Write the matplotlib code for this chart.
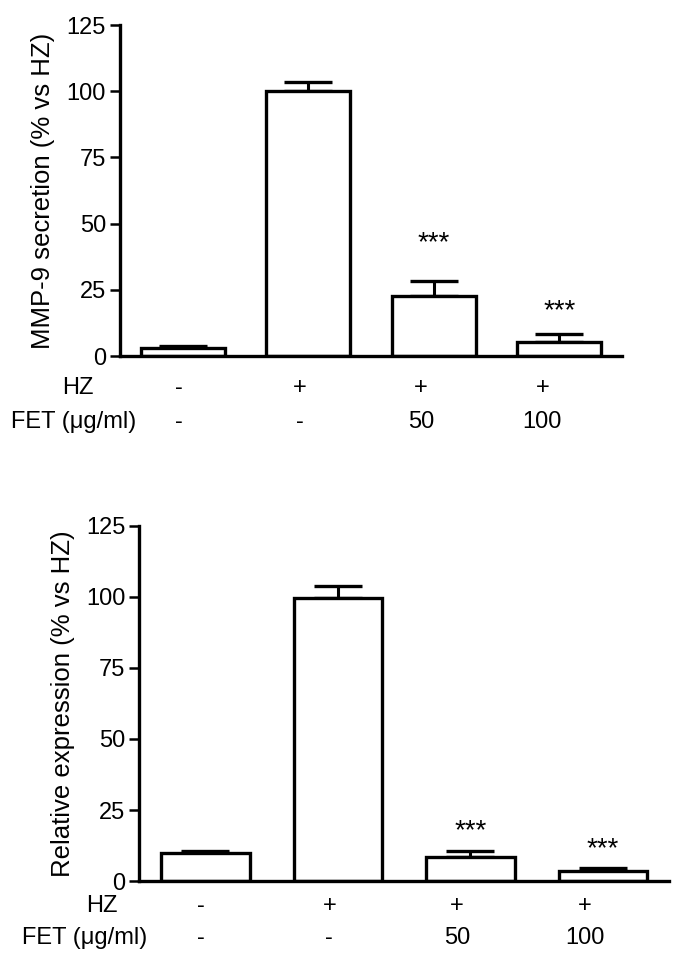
import numpy as np
import matplotlib.pyplot as plt
import matplotlib.transforms as mtransforms

plt.rcParams['font.family'] = ['Liberation Sans', 'DejaVu Sans']

# data
mmp9_mean = [2.9, 100.0, 22.7, 5.4]
mmp9_err = [0.9, 3.4, 5.6, 3.1]
mmp9_stars = ['', '', '***', '***']
mmp9_star_y = [0, 0, 42.7, 17.0]

expr_mean = [10.0, 99.8, 8.3, 3.5]
expr_err = [0.6, 3.9, 2.1, 1.2]
expr_stars = ['', '', '***', '***']
expr_star_y = [0, 0, 17.7, 11.2]

hz_labels = ['-', '+', '+', '+']
fet_labels = ['-', '-', '50', '100']
yticks = [0, 25, 50, 75, 100, 125]

fig = plt.figure(figsize=(6.85, 9.65), dpi=100)
ax1 = fig.add_axes([0.175, 0.631, 0.733, 0.343])
ax2 = fig.add_axes([0.203, 0.087, 0.774, 0.368])


def draw_panel(ax, means, errs, stars, star_y, ylabel, hz_y, fet_y, hz_x, fet_x, lab_step):
    x = np.arange(len(means))
    ax.bar(x, means, width=0.667, color='white', edgecolor='black', linewidth=2.4, zorder=2)
    ax.errorbar(x, means, yerr=[np.zeros(len(errs)), errs], fmt='none', ecolor='black',
                elinewidth=2.2, capsize=17, capthick=2.4, zorder=1)
    for xi, s, sy in zip(x, stars, star_y):
        if s:
            ax.text(xi, sy, s, ha='center', va='center', fontsize=20)
    ax.set_xlim(-0.5, 3.5)
    ax.set_ylim(0, 125)
    ax.set_yticks(yticks)
    ax.set_xticks([])
    for side in ['top', 'right']:
        ax.spines[side].set_visible(False)
    ax.spines['left'].set_linewidth(2.4)
    ax.spines['bottom'].set_linewidth(2.4)
    ax.tick_params(axis='y', length=7, width=1.8, labelsize=17, pad=3)
    ax.set_ylabel(ylabel, fontsize=18.5, labelpad=8)

    trans = mtransforms.blended_transform_factory(ax.transData, ax.transAxes)
    ax.text(hz_x, hz_y, 'HZ', transform=trans, ha='right', va='center', fontsize=17)
    ax.text(fet_x, fet_y, 'FET (\u03bcg/ml)', transform=trans, ha='right', va='center', fontsize=17)
    for i, (h, f) in enumerate(zip(hz_labels, fet_labels)):
        lx = i * lab_step - 0.03
        ax.text(lx, hz_y, h, transform=trans, ha='center', va='center', fontsize=17)
        ax.text(lx, fet_y, f, transform=trans, ha='center', va='center', fontsize=17)


draw_panel(ax1, mmp9_mean, mmp9_err, mmp9_stars, mmp9_star_y,
           'MMP-9 secretion (% vs HZ)', -0.095, -0.2, -0.71, -0.37, 0.965)
draw_panel(ax2, expr_mean, expr_err, expr_stars, expr_star_y,
           'Relative expression (% vs HZ)', -0.07, -0.16, -0.66, -0.44, 0.965)

fig.savefig('out.png', dpi=100)
